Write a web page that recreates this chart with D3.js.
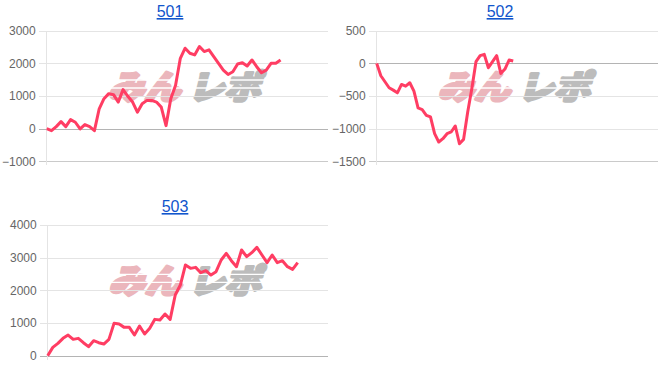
<!DOCTYPE html>
<html lang="ja">
<head>
  <meta charset="UTF-8">
  <title>501 / 502 / 503</title>
  <script src="https://d3js.org/d3.v7.min.js"></script>
  <style>
    body {
      margin: 0;
      background: #fff;
      font-family: "Liberation Sans", Arial, sans-serif;
    }
    .title {
      font-size: 16px;
      fill: #1155cc;
      text-decoration: underline;
    }
    .tick-label {
      font-size: 12px;
      fill: #666;
    }
    .line {
      fill: none;
      stroke: #ff3d63;
      stroke-width: 3px;
      stroke-linejoin: round;
    }
  </style>
</head>
<body>
  <svg id="chart" width="671" height="369"></svg>
  <script>
    // machine numbers
    const names = ["501", "502", "503"];

    // number of x slots on each chart (x axis itself is hidden)
    const slots501 = 60;
    const slots502 = 69;
    const slots503 = 56;

    // running totals
    const values501 = [0, -62, 62, 216, 62, 278, 196, -10, 124, 62, -62, 608, 918, 1072, 1041, 814,
      1196, 990, 814, 505, 763, 866, 866, 814, 660, 93, 918, 1330, 2155, 2464, 2309, 2258, 2515,
      2361, 2412, 2206, 2000, 1794, 1660, 1742, 1979, 2021, 1918, 2103, 1897, 1711, 1794, 2000,
      2000, 2103];
    const values502 = [0, -190, -282, -374, -410, -451, -323, -349, -297, -426, -682, -708, -795,
      -821, -1077, -1205, -1154, -1077, -1051, -959, -1231, -1164, -744, -385, 26, 118, 138, -67,
      26, 118, -154, -87, 51, 36];
    const values503 = [0, 255, 378, 531, 633, 500, 531, 398, 276, 459, 398, 357, 500, 990, 969,
      867, 867, 633, 908, 663, 837, 1112, 1092, 1276, 1112, 1857, 2163, 2776, 2673, 2704, 2541,
      2602, 2469, 2571, 2929, 3133, 2908, 2724, 3235, 3031, 3153, 3316, 3082, 2847, 3082, 2847,
      2908, 2724, 2643, 2847];

    // y tick labels
    const ticks501 = [-1000, 0, 1000, 2000, 3000];
    const ticks502 = [-1500, -1000, -500, 0, 500];
    const ticks503 = [0, 1000, 2000, 3000, 4000];

    const svg = d3.select("#chart");

    const panels = [
      { name: names[0], values: values501, ticks: ticks501, slots: slots501,
        left: 46.7, right: 328.3, top: 30.7, bottom: 161.3, titleX: 170, titleY: 17 },
      { name: names[1], values: values502, ticks: ticks502, slots: slots502,
        left: 376.7, right: 658, top: 30.7, bottom: 161.3, titleX: 500, titleY: 17 },
      { name: names[2], values: values503, ticks: ticks503, slots: slots503,
        left: 47.7, right: 328.3, top: 225, bottom: 355.7, titleX: 175, titleY: 212 }
    ];

    function watermark(g, cx, cy) {
      const wm = g.append("g")
        .attr("transform", `translate(${cx},${cy}) skewX(-14)`);
      [["みん", -76, "#ebb6bc"], ["レポ", 4, "#bcbcbc"]].forEach(([t, x0, c]) => {
        wm.append("text")
          .attr("x", x0).attr("y", 12)
          .attr("textLength", 72).attr("lengthAdjust", "spacingAndGlyphs")
          .attr("font-family", "'Noto Sans CJK JP', sans-serif")
          .attr("font-size", 33).attr("font-weight", 900)
          .attr("fill", c)
          .attr("stroke", c).attr("stroke-width", 3.2)
          .attr("stroke-linejoin", "round")
          .text(t);
      });
      // speed stripes through the logo
      [-7, 1].forEach(y => {
        wm.append("line")
          .attr("x1", -82).attr("x2", 82)
          .attr("y1", y).attr("y2", y)
          .attr("stroke", "#fff").attr("stroke-width", 1.3);
      });
    }

    panels.forEach(p => {
      const g = svg.append("g");

      const x = d3.scalePoint()
        .domain(d3.range(p.slots))
        .range([p.left, p.right]);

      const y = d3.scaleLinear()
        .domain(d3.extent(p.ticks))
        .range([p.bottom, p.top]);

      watermark(g, (p.left + p.right) / 2, (p.top + p.bottom) / 2 - 9);

      // horizontal grid + tick labels
      const yAxis = d3.axisLeft(y)
        .tickValues(p.ticks)
        .tickSize(-(p.right - p.left + 8))
        .tickPadding(3)
        .tickFormat(d3.format("d"));

      const ax = g.append("g")
        .attr("transform", `translate(${p.left - 8},0)`)
        .call(yAxis);
      ax.select(".domain").remove();
      ax.selectAll(".tick line")
        .attr("transform", "translate(8,0)")
        .attr("x2", p.right - p.left)
        .attr("x1", -8)
        .attr("stroke", d => d === 0 ? "#b4b4b4" : (d === p.ticks[0] ? "#cacaca" : "#e4e4e4"))
        .attr("shape-rendering", "crispEdges");
      ax.selectAll(".tick text")
        .attr("class", "tick-label")
        .attr("x", -3)
        .attr("font-family", null)
        .attr("font-size", null)
        .attr("fill", null);

      // vertical axis line
      g.append("line")
        .attr("x1", p.left).attr("x2", p.left)
        .attr("y1", p.top).attr("y2", p.bottom + 4)
        .attr("stroke", "#e4e4e4")
        .attr("shape-rendering", "crispEdges");

      const line = d3.line()
        .x((d, i) => x(i))
        .y(d => y(d));

      g.append("path")
        .datum(p.values)
        .attr("class", "line")
        .attr("d", line);

      g.append("text")
        .attr("class", "title")
        .attr("x", p.titleX)
        .attr("y", p.titleY)
        .attr("text-anchor", "middle")
        .text(p.name);
    });
  </script>
</body>
</html>
